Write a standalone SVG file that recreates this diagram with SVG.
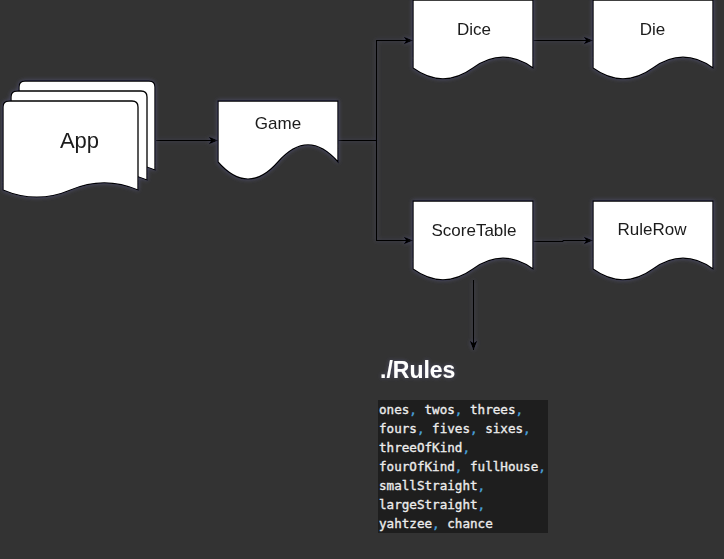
<svg xmlns="http://www.w3.org/2000/svg" width="724" height="559" viewBox="0 0 724 559">
<style>
.doc{fill:#ffffff;stroke:#000000;stroke-width:1.3;}
.lbl{font-family:"Liberation Sans",Arial,sans-serif;font-size:17px;fill:#1a1a1a;text-anchor:middle;}
.edge{fill:none;stroke:#000000;stroke-width:1.2;marker-end:url(#arr);}
.code{font-family:"DejaVu Sans Mono",monospace;font-size:12.6px;fill:#ececec;stroke:#ececec;stroke-width:0.35px;}
.cm{fill:#4aa3dc;stroke:#4aa3dc;}
</style>
<defs>
<marker id="arr" markerUnits="userSpaceOnUse" viewBox="0 0 10 8" refX="9.5" refY="4" markerWidth="10" markerHeight="8" orient="auto">
<path d="M0,0 L10,4 L0,8 L2.5,4 Z" fill="#000000"/>
</marker>
<filter id="sh" x="-20%" y="-20%" width="140%" height="140%">
<feGaussianBlur in="SourceAlpha" stdDeviation="2.2" result="b"/>
<feFlood flood-color="#5c5c88" flood-opacity="0.7"/>
<feComposite in2="b" operator="in" result="s"/>
<feMerge><feMergeNode in="s"/><feMergeNode in="SourceGraphic"/></feMerge>
</filter>
</defs>
<rect x="0" y="0" width="724" height="559" fill="#333333"/>

<g id="connectors" filter="url(#sh)">
<path class="edge" d="M156,140.5 H218"/>
<path class="edge" d="M338,140.5 H376.5 V40.5 H413"/>
<path class="edge" d="M376.5,140.5 V240.5 H413"/>
<path class="edge" d="M533,40.5 H593"/>
<path class="edge" d="M533,241.5 H563 V240.5 H593"/>
<path class="edge" d="M473.5,280 V350"/>
</g>

<g id="app" filter="url(#sh)">
<path class="doc" d="M19,87 Q19,81 25,81 H149 Q155,81 155,87 V170 Q121,155.6 87,170 Q53,184.4 19,170 Z"/>
<path class="doc" d="M11,97 Q11,91 17,91 H141 Q147,91 147,97 V180 Q113,165.6 79,180 Q45,194.4 11,180 Z"/>
<path class="doc" d="M3,107 Q3,101 9,101 H132 Q138,101 138,107 V190 Q104.25,175.6 70.5,190 Q36.75,204.4 3,190 Z"/>
<text x="79.5" y="147.5" class="lbl" style="font-size:22px">App</text>
</g>

<g id="game" filter="url(#sh)">
<path class="doc" d="M218,101 H338 V162 Q308,127.8 278,162 Q248,196.2 218,162 Z"/>
<text x="278" y="129" class="lbl">Game</text>
</g>

<g id="dice" filter="url(#sh)">
<path class="doc" d="M413,0 H533 V68 Q503,46.4 473,68 Q443,89.6 413,68 Z"/>
<text x="474" y="35" class="lbl">Dice</text>
</g>

<g id="die" filter="url(#sh)">
<path class="doc" d="M593,0 H713 V68 Q683,46.4 653,68 Q623,89.6 593,68 Z"/>
<text x="652.5" y="35" class="lbl">Die</text>
</g>

<g id="scoretable" filter="url(#sh)">
<path class="doc" d="M413,201 H533 V269 Q503,247.4 473,269 Q443,290.6 413,269 Z"/>
<text x="474" y="236" class="lbl">ScoreTable</text>
</g>

<g id="rulerow" filter="url(#sh)">
<path class="doc" d="M593,201 H713 V269 Q683,247.4 653,269 Q623,290.6 593,269 Z"/>
<text x="652" y="235" class="lbl">RuleRow</text>
</g>

<g id="rules">
<text x="380" y="377.5" filter="url(#sh)" style="font-family:'Liberation Sans',Arial,sans-serif;font-size:23px;font-weight:bold;fill:#ffffff;">./Rules</text>
<rect x="378" y="400" width="170" height="133" fill="#1e1e1e"/>
<text class="code" xml:space="preserve"><tspan x="379" y="414">ones<tspan class="cm">,</tspan> twos<tspan class="cm">,</tspan> threes<tspan class="cm">,</tspan></tspan><tspan x="379" y="433">fours<tspan class="cm">,</tspan> fives<tspan class="cm">,</tspan> sixes<tspan class="cm">,</tspan></tspan><tspan x="379" y="452">threeOfKind<tspan class="cm">,</tspan></tspan><tspan x="379" y="471">fourOfKind<tspan class="cm">,</tspan> fullHouse<tspan class="cm">,</tspan></tspan><tspan x="379" y="490">smallStraight<tspan class="cm">,</tspan></tspan><tspan x="379" y="509">largeStraight<tspan class="cm">,</tspan></tspan><tspan x="379" y="528">yahtzee<tspan class="cm">,</tspan> chance</tspan></text>
</g>
</svg>
